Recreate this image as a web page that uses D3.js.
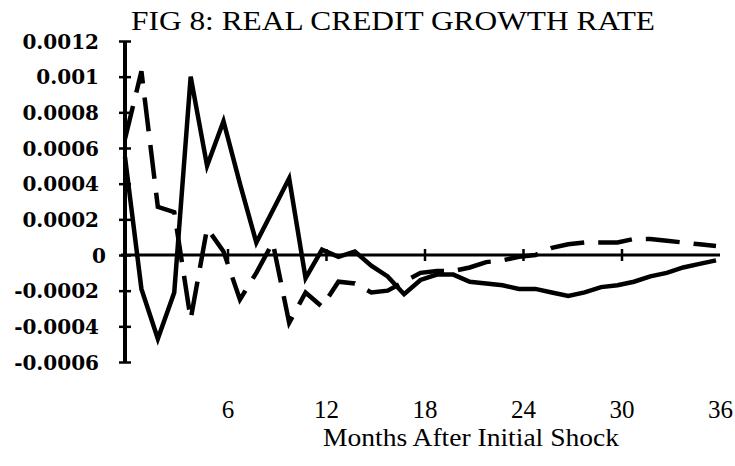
<!DOCTYPE html>
<html lang="en">
  <head>
    <meta charset="UTF-8" />
    <title>FIG 8: REAL CREDIT GROWTH RATE</title>
    <script src="https://d3js.org/d3.v7.min.js"></script>
    <style>
      html, body { margin: 0; padding: 0; background: #fff; }
      #svgBox { display: block; width: 735px; height: 466px; background: #fff; }
    </style>
  </head>
  <body>
    <svg id="svgBox"></svg>
  </body>
  <script>
    // months after the shock (0..36)
    const months = d3.range(0, 37)
    // solid line
    const solidValues = [
      0.00055, -0.00019, -0.00047, -0.00021, 0.001, 0.0005, 0.00075, 0.0004, 0.00007, 0.00025,
      0.00043, -0.00013, 0.00003, -0.00001, 0.00002, -0.00006, -0.00012, -0.00022, -0.00014, -0.00011,
      -0.00011, -0.00015, -0.00016, -0.00017, -0.00019, -0.00019, -0.00021, -0.00023, -0.00021, -0.00018,
      -0.00017, -0.00015, -0.00012, -0.0001, -0.00007, -0.00005, -0.00003
    ]
    // dashed line
    const dashedValues = [
      0.00065, 0.00103, 0.00027, 0.00024, -0.00036, 0.00015, 0.00002, -0.00025, -0.0001, 0.00007,
      -0.00038, -0.00021, -0.00029, -0.00015, -0.00016, -0.00021, -0.0002, -0.00015, -0.0001, -0.00009,
      -0.00009, -0.00007, -0.00004, -0.00003, -0.00001, 0.0, 0.00004, 0.00006, 0.00007, 0.00007,
      0.00007, 0.00009, 0.00009, 0.00008, 0.00007, 0.00006, 0.00005
    ]
    const yTicks = [0.0012, 0.001, 0.0008, 0.0006, 0.0004, 0.0002, 0, -0.0002, -0.0004, -0.0006]
    const yTickLabels = ['0.0012', '0.001', '0.0008', '0.0006', '0.0004', '0.0002', '0', '-0.0002', '-0.0004', '-0.0006']
    const xTicks = [6, 12, 18, 24, 30, 36]
    const titleText = 'FIG 8: REAL CREDIT GROWTH RATE'
    const xTitle = 'Months After Initial Shock'

    function init() {
      const svg = d3.select('#svgBox').attr('width', 735).attr('height', 466)
      const serif = '"Liberation Serif", "Times New Roman", serif'

      // scales
      const xScale = d3.scaleLinear().domain([0, 36]).range([125, 716])
      const yScale = d3.scaleLinear().domain([-0.0006, 0.0012]).range([362, 41])

      // title
      svg.append('text')
        .attr('x', 131)
        .attr('y', 30)
        .attr('textLength', 524)
        .attr('lengthAdjust', 'spacingAndGlyphs')
        .style('font-family', serif)
        .style('font-size', '27px')
        .text(titleText)

      // y axis: ticks crossing the line
      const yAxis = d3.axisLeft(yScale)
        .tickValues(yTicks)
        .tickSize(6)
        .tickFormat((d, i) => yTickLabels[i])
      const gy = svg.append('g')
        .attr('transform', `translate(${xScale(0)} 0)`)
        .call(yAxis)
      gy.select('.domain').remove()
      gy.selectAll('.tick line')
        .attr('x1', -6)
        .attr('x2', 6)
        .attr('stroke', '#000')
        .attr('stroke-width', 2.5)
      gy.selectAll('.tick text')
        .attr('x', d => (d === 0 ? -19 : -26))
        .attr('dy', '0.36em')
        .attr('fill', '#000')
        .style('font-family', '"DejaVu Serif", serif')
        .style('font-weight', 'bold')
        .style('font-size', '20px')
      svg.append('line')
        .attr('x1', xScale(0)).attr('x2', xScale(0))
        .attr('y1', yScale(0.0012)).attr('y2', yScale(-0.0006))
        .attr('stroke', '#000')
        .attr('stroke-width', 4)

      // x axis along zero
      const xAxis = d3.axisBottom(xScale)
        .tickValues(xTicks)
        .tickSize(0)
      const gx = svg.append('g')
        .attr('transform', `translate(0 ${yScale(0)})`)
        .call(xAxis)
      gx.select('.domain').remove()
      gx.selectAll('.tick text')
        .attr('y', 0)
        .attr('dx', 4)
        .attr('dy', 418 - yScale(0))
        .attr('fill', '#000')
        .style('font-family', serif)
        .style('font-size', '25px')
      gx.selectAll('.tick')
        .filter(d => d < 36)
        .append('line')
        .attr('x1', 4).attr('x2', 4)
        .attr('y1', -6)
        .attr('y2', 6)
        .attr('stroke', '#000')
        .attr('stroke-width', 2.5)
      svg.append('line')
        .attr('x1', xScale(0) - 4).attr('x2', xScale(36) + 4)
        .attr('y1', yScale(0)).attr('y2', yScale(0))
        .attr('stroke', '#000')
        .attr('stroke-width', 3)

      svg.append('text')
        .attr('x', 471)
        .attr('y', 446)
        .attr('text-anchor', 'middle')
        .attr('textLength', 296)
        .attr('lengthAdjust', 'spacingAndGlyphs')
        .style('font-family', serif)
        .style('font-size', '25px')
        .text(xTitle)

      // lines
      const line = d3.line()
        .x(d => xScale(d[0]))
        .y(d => yScale(d[1]))

      svg.append('path')
        .datum(months.map((m, i) => [m, dashedValues[i]]))
        .attr('d', line)
        .attr('fill', 'none')
        .attr('stroke', '#000')
        .attr('stroke-width', 4.5)
        .attr('stroke-dasharray', '34 14')

      svg.append('path')
        .datum(months.map((m, i) => [m, solidValues[i]]))
        .attr('d', line)
        .attr('fill', 'none')
        .attr('stroke', '#000')
        .attr('stroke-width', 4.5)
        .attr('stroke-linejoin', 'miter')
    }
    init()
  </script>
</html>
